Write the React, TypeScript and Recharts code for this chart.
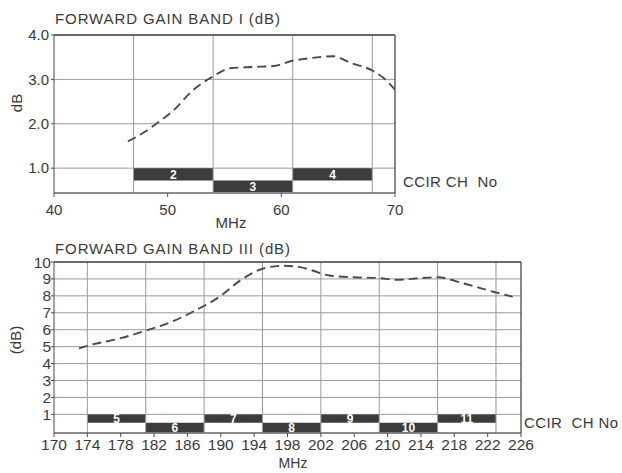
import React from 'react';
import { ComposedChart, Line, XAxis, YAxis, CartesianGrid, ReferenceArea, ReferenceLine } from 'recharts';

// Band I (40-70 MHz)
const band1Freq = [46.5, 48, 49, 50.5, 52.2, 54, 55.5, 57.5, 59.3, 61, 62, 64.6, 66.1, 68, 69, 70];
const band1Gain = [1.6, 1.82, 2.0, 2.3, 2.75, 3.07, 3.25, 3.28, 3.3, 3.42, 3.46, 3.52, 3.37, 3.2, 3.03, 2.77];
const band1XTicks = [40, 50, 60, 70];
const band1YTicks = [1, 2, 3, 4];
const band1Channels = ['2', '3', '4'];
const band1ChStart = [47, 54, 61];
const band1ChEnd = [54, 61, 68];
const band1ChLow = [0.72, 0.46, 0.72];
const band1ChHigh = [1.0, 0.72, 1.0];
const band1Bounds = [47, 54, 61, 68];

// Band III (170-226 MHz)
const band3Freq = [173, 174, 178, 181, 184, 187, 190, 192.3, 195, 197.5, 199.5, 201, 203, 206, 209, 211, 214, 216, 219, 223, 225];
const band3Gain = [4.9, 5.05, 5.5, 5.95, 6.45, 7.15, 8.0, 8.9, 9.6, 9.78, 9.7, 9.5, 9.2, 9.1, 9.05, 8.95, 9.05, 9.1, 8.75, 8.2, 7.95];
const band3XTicks = [170, 174, 178, 182, 186, 190, 194, 198, 202, 206, 210, 214, 218, 222, 226];
const band3YTicks = [1, 2, 3, 4, 5, 6, 7, 8, 9, 10];
const band3Channels = ['5', '6', '7', '8', '9', '10', '11'];
const band3ChStart = [174, 181, 188, 195, 202, 209, 216];
const band3ChEnd = [181, 188, 195, 202, 209, 216, 223];
const band3ChLow = [0.5, -0.05, 0.5, -0.05, 0.5, -0.05, 0.5];
const band3ChHigh = [1.0, 0.5, 1.0, 0.5, 1.0, 0.5, 1.0];
const band3Bounds = [174, 181, 188, 195, 202, 209, 216, 223];

const FONT = '"Liberation Sans", Arial, Helvetica, sans-serif';
const TXT = '#3a3a3a';
const GRID = '#9a9a9a';
const FRAME = '#4a4a4a';
const BAR = '#3c3c3c';
const CURVE = '#4a4a4a';

const band1Data = band1Freq.map((f, i) => ({ f, g: band1Gain[i] }));
const band3Data = band3Freq.map((f, i) => ({ f, g: band3Gain[i] }));

export default function App() {
  return (
    <div style={{ position: 'absolute', left: 0, top: 0, width: 622, height: 473, background: '#fff', fontFamily: FONT }}>
      <div style={{ position: 'absolute', left: 0, top: 0 }}>
        <ComposedChart width={622} height={230} data={band1Data} margin={{ top: 35, right: 227, left: 0, bottom: 4 }}>
          <CartesianGrid vertical={false} stroke={GRID} strokeWidth={1} />
          {band1Bounds.map((b) => (
            <ReferenceLine key={'v' + b} x={b} stroke={GRID} strokeWidth={1} />
          ))}
          <ReferenceLine x={70} stroke={FRAME} strokeWidth={1.3} />
          <ReferenceLine y={4} stroke={FRAME} strokeWidth={1.3} />
          {band1Channels.map((c, i) => (
            <ReferenceArea
              key={'c' + c}
              x1={band1ChStart[i]}
              x2={band1ChEnd[i]}
              y1={band1ChLow[i]}
              y2={band1ChHigh[i]}
              fill={BAR}
              fillOpacity={1}
              stroke="none"
              label={{ value: c, position: 'center', fill: '#fff', fontSize: 12, fontWeight: 'bold', fontFamily: FONT }}
            />
          ))}
          <XAxis
            dataKey="f"
            type="number"
            domain={[40, 70]}
            ticks={band1XTicks}
            allowDataOverflow
            height={33}
            tickSize={4}
            tickMargin={7}
            stroke={FRAME}
            tick={{ fill: TXT, fontSize: 15, fontFamily: FONT }}
          />
          <YAxis
            type="number"
            domain={[0.44, 4]}
            ticks={band1YTicks}
            allowDataOverflow
            width={54}
            tickSize={3}
            tickMargin={2}
            stroke={FRAME}
            tickFormatter={(v: number) => v.toFixed(1)}
            tick={{ fill: TXT, fontSize: 15, fontFamily: FONT }}
          />
          <Line
            type="monotone"
            dataKey="g"
            stroke={CURVE}
            strokeWidth={1.9}
            strokeDasharray="9 5"
            dot={false}
            isAnimationActive={false}
          />
        </ComposedChart>
      </div>
      <div style={{ position: 'absolute', left: 0, top: 230 }}>
        <ComposedChart width={622} height={243} data={band3Data} margin={{ top: 32, right: 101, left: 0, bottom: 7 }}>
          <CartesianGrid vertical={false} stroke={GRID} strokeWidth={1} />
          {band3Bounds.map((b) => (
            <ReferenceLine key={'v' + b} x={b} stroke={GRID} strokeWidth={1} />
          ))}
          <ReferenceLine x={226} stroke={FRAME} strokeWidth={1.3} />
          <ReferenceLine y={10} stroke={FRAME} strokeWidth={1.3} />
          {band3Channels.map((c, i) => (
            <ReferenceArea
              key={'c' + c}
              x1={band3ChStart[i]}
              x2={band3ChEnd[i]}
              y1={band3ChLow[i]}
              y2={band3ChHigh[i]}
              fill={BAR}
              fillOpacity={1}
              stroke="none"
              label={{ value: c, position: 'center', fill: '#fff', fontSize: 12, fontWeight: 'bold', fontFamily: FONT }}
            />
          ))}
          <XAxis
            dataKey="f"
            type="number"
            domain={[170, 226]}
            ticks={band3XTicks}
            allowDataOverflow
            interval={0}
            height={33}
            tickSize={4}
            tickMargin={2}
            stroke={FRAME}
            tick={{ fill: TXT, fontSize: 15.5, fontFamily: FONT }}
          />
          <YAxis
            type="number"
            domain={[-0.1, 10]}
            ticks={band3YTicks}
            allowDataOverflow
            interval={0}
            width={54}
            tickSize={3}
            tickMargin={0}
            stroke={FRAME}
            tick={{ fill: TXT, fontSize: 15.5, fontFamily: FONT }}
          />
          <Line
            type="monotone"
            dataKey="g"
            stroke={CURVE}
            strokeWidth={1.9}
            strokeDasharray="9 5"
            dot={false}
            isAnimationActive={false}
          />
        </ComposedChart>
      </div>
      <svg width={622} height={473} style={{ position: 'absolute', left: 0, top: 0, pointerEvents: 'none' }}>
        <g fill={TXT} fontFamily={FONT}>
          <text x={55} y={24} fontSize={15} letterSpacing={0.9}>FORWARD GAIN BAND I (dB)</text>
          <text x={55} y={254} fontSize={15} letterSpacing={0.9}>FORWARD GAIN BAND III (dB)</text>
          <text x={0} y={0} fontSize={15} textAnchor="middle" transform="translate(22,103) rotate(-90)">dB</text>
          <text x={0} y={0} fontSize={15} textAnchor="middle" transform="translate(21,340) rotate(-90)">(dB)</text>
          <text x={231} y={228} fontSize={15} textAnchor="middle">MHz</text>
          <text x={293} y={468} fontSize={14} textAnchor="middle">MHz</text>
          <text x={403} y={187} fontSize={15} letterSpacing={0.4} style={{ whiteSpace: 'pre' }}>CCIR CH  No</text>
          <text x={524} y={428} fontSize={15} letterSpacing={0.4} style={{ whiteSpace: 'pre' }}>CCIR  CH No</text>
        </g>
      </svg>
    </div>
  );
}
